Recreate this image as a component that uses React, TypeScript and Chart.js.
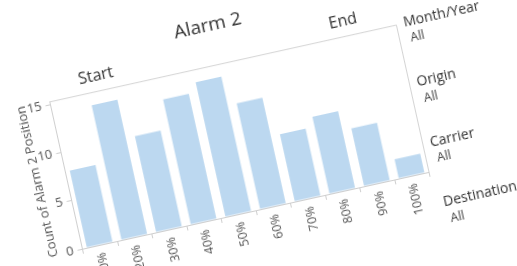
import { useEffect, useRef } from "react";
import { Chart, registerables } from "chart.js";

Chart.register(...registerables);

const categories = ["10%", "20%", "30%", "40%", "50%", "60%", "70%", "80%", "90%", "100%"];
const counts = [8, 14, 10, 13, 14, 11, 7, 8, 6, 2];
const yTickValues = [0, 5, 10, 15];
const yMax = 15.25;
const chartTitle = "Alarm 2";
const yAxisTitle = "Count of Alarm 2 Position";
const startLabel = "Start";
const endLabel = "End";
const filterNames = ["Month/Year", "Origin", "Carrier", "Destination"];
const filterValues = ["All", "All", "All", "All"];

const FONT = "'Open Sans', 'Noto Sans', sans-serif";

const boxPlugin = {
  id: "boxBorder",
  afterDraw(chart: any) {
    const { ctx, chartArea } = chart;
    ctx.save();
    ctx.strokeStyle = "#d4d4d4";
    ctx.lineWidth = 1;
    ctx.beginPath();
    ctx.moveTo(chartArea.left, chartArea.top);
    ctx.lineTo(chartArea.right, chartArea.top);
    ctx.lineTo(chartArea.right, chartArea.bottom);
    ctx.stroke();
    ctx.restore();
  },
};

export default function App() {
  const ref = useRef<HTMLCanvasElement | null>(null);

  useEffect(() => {
    if (!ref.current) return;
    const chart = new Chart(ref.current, {
      type: "bar",
      data: {
        labels: categories,
        datasets: [
          {
            data: counts,
            backgroundColor: "rgb(188,216,240)",
            borderWidth: 0,
            barPercentage: 0.74,
            categoryPercentage: 1,
          },
        ],
      },
      plugins: [boxPlugin],
      options: {
        animation: false,
        responsive: false,
        devicePixelRatio: 1,
        layout: { padding: { left: 0, top: 57.6, right: 100.5, bottom: 0 } },
        plugins: { legend: { display: false }, tooltip: { enabled: false }, title: { display: false } },
        scales: {
          x: {
            afterFit: (s: any) => {
              s.height = 58;
            },
            grid: {
              offset: true,
              drawOnChartArea: false,
              drawTicks: true,
              tickLength: 5,
              color: "#cfcfcf",
            },
            border: { display: true, color: "#cfcfcf" },
            ticks: {
              minRotation: 90,
              maxRotation: 90,
              padding: 3,
              color: "#555",
              font: { family: FONT, size: 12.5 },
              autoSkip: false,
            },
          },
          y: {
            min: 0,
            max: yMax,
            afterFit: (s: any) => {
              s.width = 61.5;
            },
            afterBuildTicks: (s: any) => {
              s.ticks = yTickValues.map((v) => ({ value: v }));
            },
            grid: {
              drawOnChartArea: false,
              drawTicks: true,
              tickLength: 5,
              color: "#cfcfcf",
            },
            border: { display: true, color: "#cfcfcf" },
            ticks: {
              padding: 4,
              color: "#555",
              font: { family: FONT, size: 13 },
            },
            title: {
              display: true,
              text: yAxisTitle,
              color: "#555",
              font: { family: FONT, size: 13, weight: "normal" },
              padding: { top: 24, bottom: 0 },
            },
          },
        },
      },
    });
    return () => chart.destroy();
  }, []);

  const centered = (x: number, y: number, size: number, color: string) => ({
    position: "absolute" as const,
    left: x,
    top: y,
    transform: "translate(-50%, -50%)",
    fontFamily: FONT,
    fontSize: size,
    color,
    whiteSpace: "nowrap" as const,
    lineHeight: 1,
  });

  const leftAligned = (x: number, y: number, size: number, color: string) => ({
    position: "absolute" as const,
    left: x,
    top: y,
    transform: "translateY(-50%)",
    fontFamily: FONT,
    fontSize: size,
    color,
    whiteSpace: "nowrap" as const,
    lineHeight: 1,
  });

  return (
    <div
      style={{
        position: "fixed",
        left: 0,
        top: 0,
        width: 517,
        height: 266,
        overflow: "hidden",
        background: "#fff",
      }}
    >
      <div
        style={{
          position: "absolute",
          left: 0,
          top: 0,
          width: 517,
          height: 266,
          transform: "rotate(-12.5deg)",
          transformOrigin: "258px 133px",
        }}
      >
        <canvas ref={ref} width={517} height={266} style={{ display: "block", width: 517, height: 266 }} />
        <div style={centered(232, 16, 19, "#333")}>{chartTitle}</div>
        <div style={centered(112, 40.5, 16, "#333")}>{startLabel}</div>
        <div style={centered(365, 41, 16, "#333")}>{endLabel}</div>
        {filterNames.map((name, i) => (
          <div key={name}>
            <div style={leftAligned(424, 55.5 + i * 61.5, 14, "#333")}>{name}</div>
            <div style={leftAligned(427.5, 73 + i * 61.5, 12.5, "#444")}>{filterValues[i]}</div>
          </div>
        ))}
      </div>
    </div>
  );
}
